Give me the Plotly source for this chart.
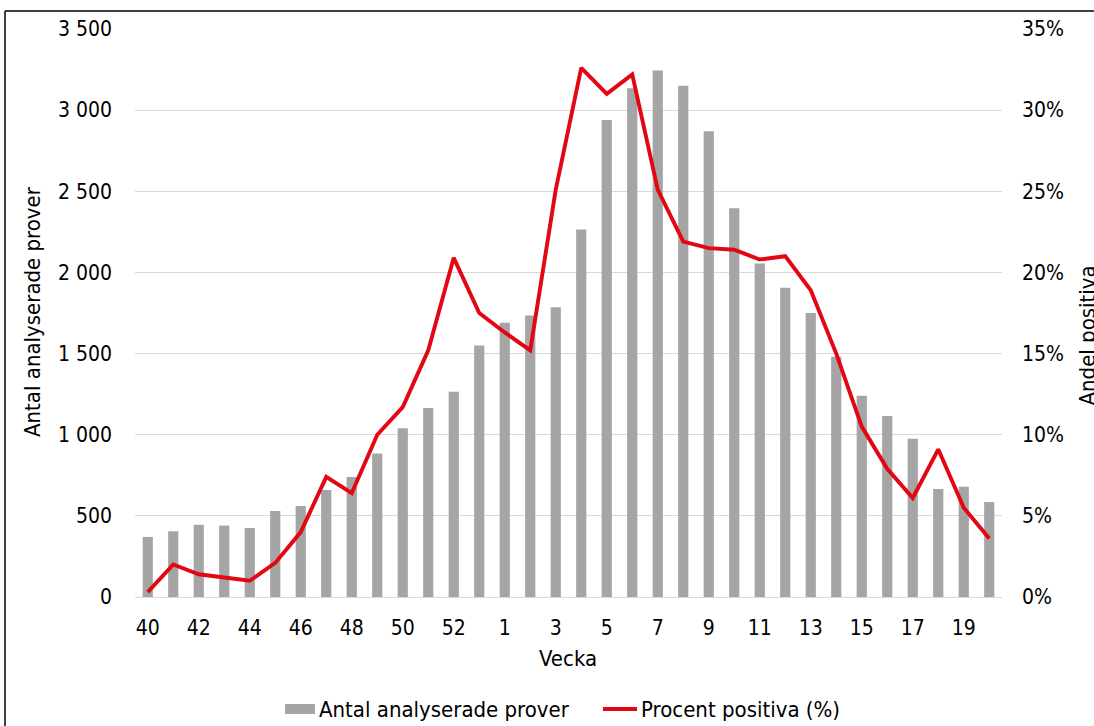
import plotly.graph_objects as go

# Week numbers: autumn weeks 40-53, then spring weeks 1-20
weeks = [str(w) for w in range(40, 54)] + [str(w) for w in range(1, 21)]

# Number of analysed samples per week
samples = [370, 405, 445, 440, 425, 530, 560, 660, 740, 885, 1040, 1165, 1265, 1550,
           1690, 1735, 1785, 2265, 2940, 3135, 3245, 3150, 2870, 2395, 2055, 1905,
           1750, 1480, 1240, 1115, 975, 665, 680, 585]

# Share of positive samples per week (%)
pct_positive = [0.3, 2.0, 1.4, 1.2, 1.0, 2.1, 4.0, 7.4, 6.4, 10.0, 11.7, 15.2, 20.9, 17.5,
                16.3, 15.2, 25.1, 32.6, 31.0, 32.2, 25.1, 21.9, 21.5, 21.4, 20.8, 21.0,
                18.9, 15.0, 10.5, 7.9, 6.1, 9.1, 5.5, 3.6]

left_ticks = [0, 500, 1000, 1500, 2000, 2500, 3000, 3500]
right_ticks = [0, 5, 10, 15, 20, 25, 30, 35]
right_labels = [f"{v}%" for v in right_ticks]

bar_name = "Antal analyserade prover"
line_name = "Procent positiva (%)"
bar_color = "#A5A5A5"
line_color = "#E30613"

W, H = 1094, 726
L, R, T, B = 135, 92, 29, 129
pw, ph = W - L - R, H - T - B

def px_x(x):
    return (x - L) / pw

def px_y(y):
    return (H - B - y) / ph

FAMILY = "DejaVu Sans Condensed, DejaVu Sans"
tick_font = dict(family=FAMILY, size=21, color="#000000")
label_font = dict(family=FAMILY, size=22, color="#000000")

fig = go.Figure()
fig.add_trace(go.Bar(
    x=weeks, y=samples, name=bar_name,
    marker=dict(color=bar_color, line=dict(width=0)),
    yaxis="y",
))
fig.add_trace(go.Scatter(
    x=weeks, y=pct_positive, name=line_name,
    mode="lines", line=dict(color=line_color, width=3.9),
    yaxis="y2",
))

fig.update_layout(
    width=W, height=H,
    margin=dict(l=L, r=R, t=T, b=B, autoexpand=False),
    paper_bgcolor="white", plot_bgcolor="white",
    separators=", ",
    bargap=0.6,
    showlegend=False,
    xaxis=dict(
        type="category", tickmode="linear", tick0=0, dtick=2,
        tickfont=tick_font, showgrid=False, showline=True, linecolor="#D9D9D9",
        linewidth=1, ticks="", ticklabelstandoff=12, automargin=False,
    ),
    yaxis=dict(
        range=[0, 3500], tickvals=left_ticks, tickformat=",d",
        tickfont=tick_font, showgrid=True, gridcolor="#D9D9D9", gridwidth=1,
        zeroline=False, showline=False, ticks="", ticklabelstandoff=22, automargin=False,
    ),
    yaxis2=dict(
        range=[0, 35], tickvals=right_ticks, ticktext=right_labels,
        overlaying="y", side="right", tickfont=tick_font,
        showgrid=False, zeroline=False, showline=False, ticks="", ticklabelstandoff=19,
        automargin=False,
    ),
    annotations=[
        dict(text="Vecka", font=label_font, xref="paper", yref="paper",
             x=px_x(568), y=px_y(658), xanchor="center", yanchor="middle", showarrow=False),
        dict(text="Antal analyserade prover", textangle=-90, font=label_font,
             xref="paper", yref="paper", x=px_x(33), y=px_y(312),
             xanchor="center", yanchor="middle", showarrow=False),
        dict(text="Andel positiva", textangle=-90, font=label_font,
             xref="paper", yref="paper", x=px_x(1073), y=px_y(408),
             xanchor="left", yanchor="bottom", showarrow=False),
        # legend labels
        dict(text=bar_name, font=label_font, xref="paper", yref="paper",
             x=px_x(317), y=px_y(709), xanchor="left", yanchor="middle", showarrow=False),
        dict(text=line_name, font=label_font, xref="paper", yref="paper",
             x=px_x(639), y=px_y(709), xanchor="left", yanchor="middle", showarrow=False),
    ],
    shapes=[
        # outer frame around the chart (left and top edges)
        dict(type="line", xref="paper", yref="paper",
             x0=px_x(5), x1=px_x(5), y0=px_y(11), y1=px_y(H + 5),
             line=dict(color="#000000", width=1.5)),
        dict(type="line", xref="paper", yref="paper",
             x0=px_x(5), x1=px_x(W + 5), y0=px_y(11), y1=px_y(11),
             line=dict(color="#000000", width=1.5)),
        # legend keys
        dict(type="rect", xref="paper", yref="paper",
             x0=px_x(285), x1=px_x(315), y0=px_y(714), y1=px_y(704),
             fillcolor=bar_color, line=dict(width=0)),
        dict(type="line", xref="paper", yref="paper",
             x0=px_x(603), x1=px_x(637), y0=px_y(709), y1=px_y(709),
             line=dict(color=line_color, width=3.9)),
    ],
)

fig.write_html("out.html")
